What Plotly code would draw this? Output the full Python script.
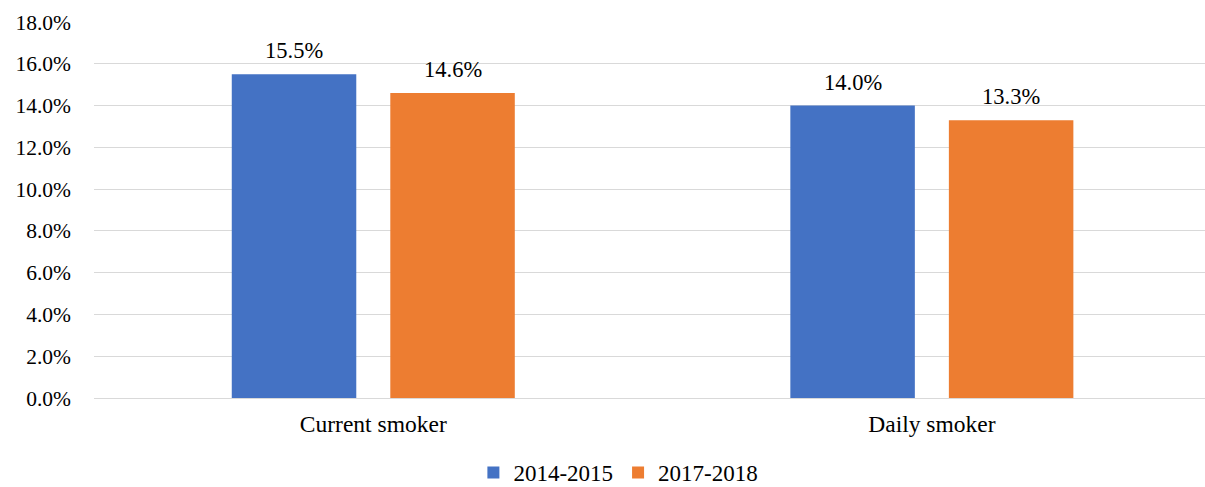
import plotly.graph_objects as go

categories = ["Current smoker", "Daily smoker"]
series_names = ["2014-2015", "2017-2018"]
values_2014_2015 = [15.5, 14.0]
values_2017_2018 = [14.6, 13.3]
colors = ["#4472C4", "#ED7D31"]
y_ticks = [0, 2, 4, 6, 8, 10, 12, 14, 16, 18]

FONT = "Liberation Serif, Times New Roman, serif"
SLOT = 0.2838  # slot width of each bar within a group (category units)

fig = go.Figure()
annotations = []
for k, (name, vals, col) in enumerate(zip(series_names, [values_2014_2015, values_2017_2018], colors)):
    fig.add_trace(go.Bar(
        x=categories, y=vals, name=name, marker=dict(color=col, line=dict(width=0)),
    ))
    for i, v in enumerate(vals):
        annotations.append(dict(
            x=i + (k - 0.5) * SLOT, y=v, xref="x", yref="y", text=f"{v:.1f}%",
            showarrow=False, yanchor="bottom", yshift=9,
            font=dict(family=FONT, size=22.5, color="#000000"),
        ))

fig.update_layout(
    width=1205, height=487,
    margin=dict(l=94, r=0, t=22, b=89, autoexpand=False),
    paper_bgcolor="white", plot_bgcolor="white",
    barmode="group", bargap=0.4324, bargroupgap=0.2146,
    font=dict(family=FONT, size=21, color="#000000"),
    legend=dict(orientation="h", x=0.472, y=-0.198, xanchor="center", yanchor="middle",
                font=dict(family=FONT, size=23), itemwidth=30, traceorder="normal",
                itemclick=False, tracegroupgap=0),
    showlegend=True,
    annotations=annotations,
)
fig.update_xaxes(range=[-0.5, 1.489], showgrid=False, showline=False, zeroline=False,
                 automargin=False,
                 ticks="", ticklabelstandoff=9, tickfont=dict(family=FONT, size=23.5))
fig.update_yaxes(range=[0, 18], tickvals=y_ticks, ticktext=[f"{v:.1f}%" for v in y_ticks],
                 showgrid=True, gridcolor="#D9D9D9", gridwidth=1.3, zeroline=True,
                 zerolinecolor="#D9D9D9", zerolinewidth=1.3, showline=False, automargin=False,
                 ticks="", ticklabelstandoff=22, tickfont=dict(family=FONT, size=21.5))

fig.write_html(
    "out.html",
    config={"displayModeBar": False},
    post_script="document.body.style.margin='0';document.body.style.overflow='hidden';",
)
